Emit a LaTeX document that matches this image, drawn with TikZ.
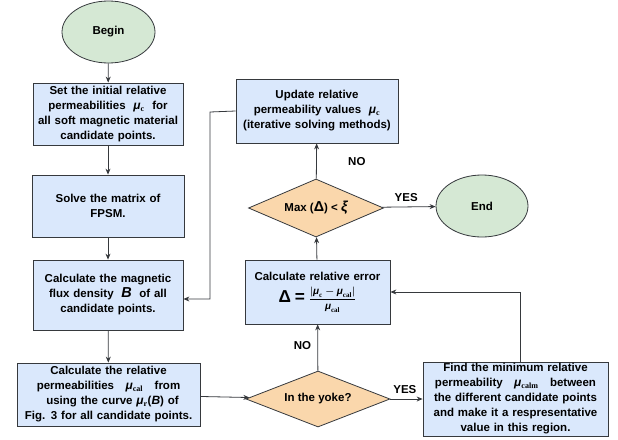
\documentclass[tikz,border=0pt]{standalone}
\usepackage{amsmath}
\usepackage{fontspec}
\setmainfont{Liberation Sans}
\newfontfamily\subfont{Liberation Serif}
\usetikzlibrary{shapes.geometric,arrows.meta}

\definecolor{boxblue}{HTML}{DAE8FC}
\definecolor{termgreen}{HTML}{D5E8D4}
\definecolor{askorange}{HTML}{FAD7AC}
\definecolor{edgegray}{HTML}{36393D}

% bold italic greek letter with a bold subscript
\newcommand{\gsym}[2]{{\large\itshape #1}\textsubscript{\subfont\bfseries #2}}
\newcommand{\gm}[1]{\text{\bfseries\itshape μ}_{\text{\subfont\bfseries #1}}}

\begin{document}
\begin{tikzpicture}[x=1pt,y=-1pt,
  font=\bfseries\boldmath\fontsize{11.5}{15}\selectfont,
  box/.style={draw=edgegray,fill=boxblue,thick,rectangle,inner sep=0pt,align=center},
  term/.style={draw=edgegray,fill=termgreen,thick,ellipse,inner sep=0pt},
  ask/.style={draw=edgegray,fill=askorange,thick,diamond,inner sep=0pt,aspect=2},
  flow/.style={draw=edgegray,thick,-{Stealth[length=6pt,width=5pt]}}]
\useasboundingbox (0,0) rectangle (618,439);

\node[term, minimum width=93pt, minimum height=62pt] (begin) at (108.5,32) {Begin};
\node[box, minimum width=150pt, minimum height=62pt, text width=150pt] (init) at (108,114)
  {Set the initial relative\\ permeabilities ~\gsym{μ}{c}~ for\\ all soft magnetic material\\ candidate points.};
\node[box, minimum width=152pt, minimum height=62pt, text width=152pt] (solve) at (108,206)
  {Solve the matrix of\\ FPSM.};
\node[box, minimum width=150pt, minimum height=70pt, text width=150pt] (flux) at (108,295)
  {Calculate the magnetic\\ flux density ~{\Large\itshape B}~ of all\\ candidate points.};
\node[box, minimum width=183pt, minimum height=63pt, text width=183pt] (perm) at (108.5,394.5)
  {Calculate the relative\\ permeabilities ~~\gsym{μ}{cal}~~ from\\ \hspace*{8pt}using the curve \gsym{μ}{r}({\large\itshape B}) of\\ Fig. 3 for all candidate points.};
\node[box, minimum width=162pt, minimum height=64pt, text width=162pt] (update) at (317,111)
  {Update relative\\ permeability values ~\gsym{μ}{c}\\ (iterative solving methods)};
\node[ask, minimum width=135pt, minimum height=58pt] (max) at (316,208)
  {Max ({\Large Δ}) < {\Large\itshape ξ}};
\node[term, minimum width=92pt, minimum height=62pt] (end) at (482,206) {End};
\node[box, minimum width=145pt, minimum height=64pt, text width=145pt] (error) at (317.5,292)
  {Calculate relative error\\[6pt] {\LARGE Δ = }{\normalsize$\dfrac{|\gm{c}-\gm{cal}|}{\gm{cal}}$}};
\node[ask, minimum width=144pt, minimum height=56pt] (yoke) at (318,399) {In the yoke?};
\node[box, minimum width=185pt, minimum height=74pt, text width=185pt] (find) at (515.5,399)
  {Find the minimum relative\\ permeability ~~\gsym{μ}{calm}~~ between\\ the different candidate points\\ and make it a respresentative\\ value in this region.};

\coordinate (loopA) at (210,112);
\coordinate (loopB) at (210,299);
\coordinate (backA) at (520,292);

\draw[flow] (begin) -- (init);
\draw[flow] (init) -- (solve);
\draw[flow] (solve) -- (flux);
\draw[flow] (flux) -- (perm);
\draw[flow] (perm) -- (yoke);
\draw[flow] (yoke) -- node[pos=0.55,left=3pt] {NO} (error);
\draw[flow] (yoke) -- node[pos=0.45,above=2pt] {YES} (find);
\draw[flow] (error) -- (max);
\draw[flow] (max) -- node[pos=0.5,right=28pt] {NO} (update);
\draw[flow] (max) -- node[pos=0.45,above=2pt] {YES} (end);
\draw[flow] (update.west) -- (loopA) -- (loopB) -- (flux.east |- loopB);
\draw[flow] (find.north -| backA) -- (backA) -- (error.east |- backA);
\end{tikzpicture}
\end{document}
